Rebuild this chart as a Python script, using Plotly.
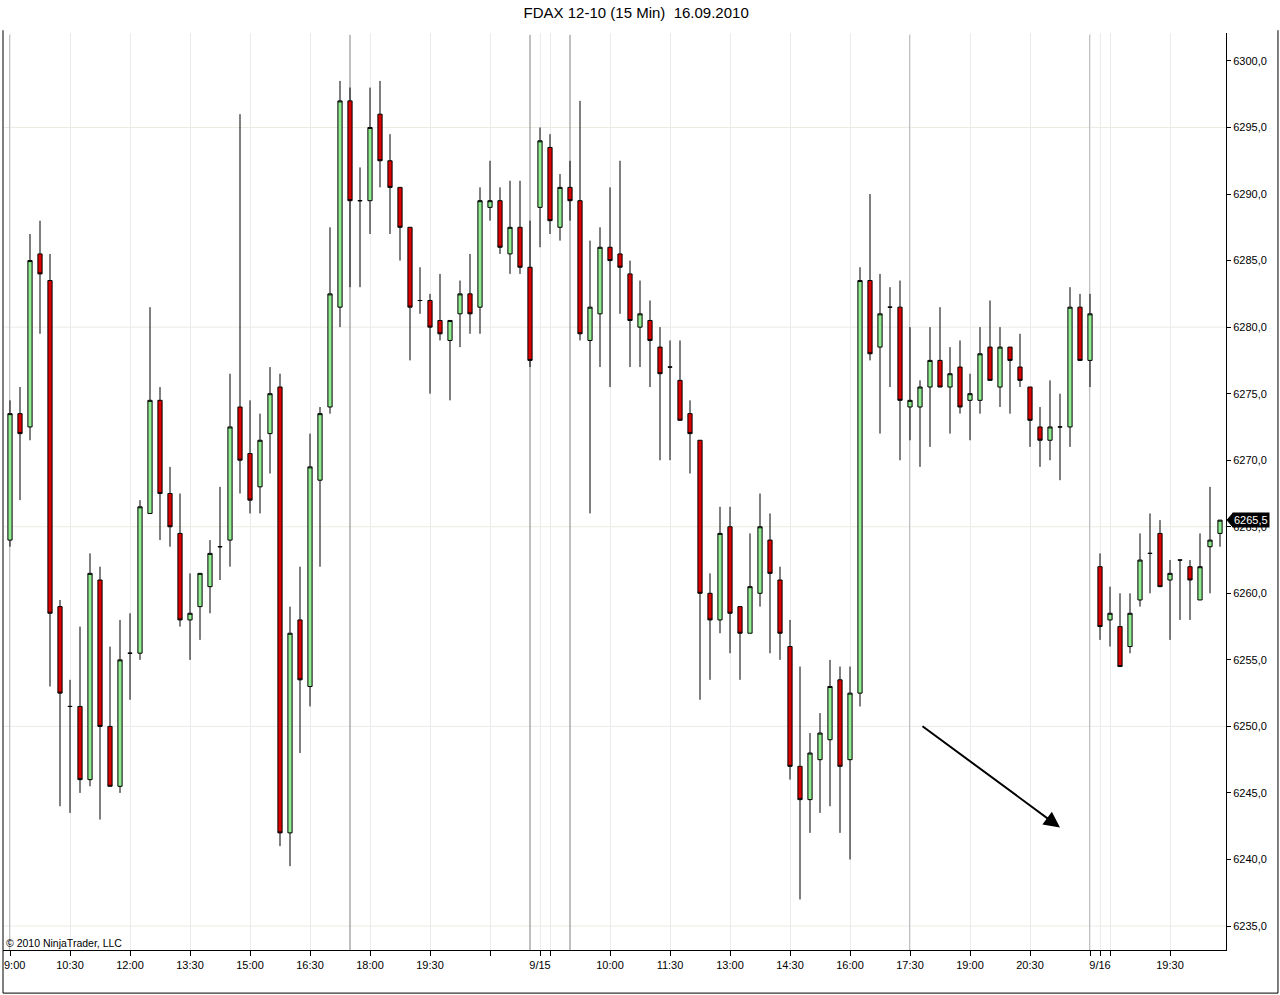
import plotly.graph_objects as go

# ---------------- data (FDAX 12-10, 15 min bars) ----------------
OPEN = [6264, 6273.5, 6272.5, 6285.5, 6283.5, 6259, 6251.5, 6251.5, 6246, 6261,
        6250, 6245.5, 6255.5, 6255.5, 6266, 6274.5, 6267.5, 6264.5, 6258, 6259,
        6260.5, 6263.5, 6264, 6274, 6270.5, 6268, 6272, 6275.5, 6242, 6258,
        6253, 6268.5, 6274, 6281.5, 6297, 6289.5, 6289.5, 6296, 6292.5, 6290.5,
        6287.5, 6282, 6282, 6280.5, 6279, 6281, 6282.5, 6281.5, 6289, 6289.5,
        6285.5, 6287.5, 6284.5, 6289, 6293.5, 6287.5, 6290.5, 6289.5, 6279, 6281,
        6286, 6285.5, 6284, 6280, 6280.5, 6278.5, 6277, 6276, 6273.5, 6271.5,
        6260, 6258, 6265, 6259, 6257, 6260, 6264, 6261, 6256, 6247,
        6244.5, 6247.5, 6249, 6253.5, 6247.5, 6252.5, 6283.5, 6278.5, 6281.5, 6281.5,
        6274, 6274, 6275.5, 6277.5, 6275.5, 6277, 6274.5, 6274.5, 6278.5, 6275.5,
        6278.5, 6277, 6275.5, 6272.5, 6271.5, 6272.5, 6272.5, 6281.5, 6277.5, 6262,
        6258, 6257.5, 6256, 6259.5, 6263, 6264.5, 6261, 6262.5, 6262, 6259.5,
        6263.5, 6264.5]
HIGH = [6274.5, 6275.5, 6287, 6288, 6285.5, 6259.5, 6253.5, 6257.5, 6263, 6262,
        6256, 6258, 6258.5, 6267, 6281.5, 6275.5, 6269.5, 6267.5, 6261.5, 6261.5,
        6264, 6268, 6276.5, 6296, 6274.5, 6273.5, 6277, 6276.5, 6259, 6262,
        6272, 6274, 6287.5, 6298.5, 6298, 6292, 6298, 6298.5, 6294.5, 6290.5,
        6287.5, 6284.5, 6282.5, 6284, 6280.5, 6283.5, 6285.5, 6290.5, 6292.5, 6290.5,
        6291, 6291, 6288, 6295, 6294.5, 6291.5, 6292.5, 6297, 6286.5, 6287.5,
        6290.5, 6292.5, 6285, 6283.5, 6282, 6280, 6279, 6279, 6274.5, 6271.5,
        6261.5, 6266.5, 6266.5, 6259, 6264.5, 6267.5, 6266, 6262, 6258, 6254.5,
        6249.5, 6251, 6255, 6254.5, 6254.5, 6284.5, 6290, 6284, 6283, 6283.5,
        6280, 6276, 6280, 6281.5, 6278.5, 6279, 6276.5, 6280, 6282, 6280,
        6278.5, 6279.5, 6275.5, 6274, 6276, 6275, 6283, 6282.5, 6282.5, 6263,
        6260.5, 6260, 6260, 6264.5, 6266, 6265.5, 6262.5, 6262.5, 6262.5, 6264.5,
        6268, 6265.5]
LOW = [6263.5, 6267, 6271.5, 6279.5, 6253, 6244, 6243.5, 6245, 6245.5, 6243,
       6245.5, 6245, 6252, 6255, 6266, 6264, 6263.5, 6257.5, 6255, 6256.5,
       6258.5, 6261, 6262, 6267.5, 6266, 6266, 6269, 6241, 6239.5, 6248,
       6251.5, 6262, 6273.5, 6280, 6283, 6283, 6287, 6290.5, 6287, 6285,
       6277.5, 6281, 6275, 6279, 6274.5, 6278.5, 6279.5, 6279.5, 6288, 6285.5,
       6284, 6284, 6277, 6286, 6287, 6286.5, 6288, 6279, 6266, 6277,
       6275.5, 6281, 6277, 6277, 6275.5, 6270, 6270, 6273, 6269, 6252,
       6253.5, 6257, 6255.5, 6253.5, 6257, 6259, 6255.5, 6255, 6246, 6237,
       6242, 6243.5, 6244, 6242, 6240, 6251.5, 6277.5, 6272, 6275.5, 6270,
       6271.5, 6269.5, 6271, 6275.5, 6272, 6273.5, 6271.5, 6273.5, 6276, 6274,
       6273.5, 6275.5, 6271, 6269.5, 6270, 6268.5, 6271, 6277.5, 6275.5, 6256.5,
       6256, 6254.5, 6255.5, 6259, 6260, 6260.5, 6256.5, 6258, 6258, 6259.5,
       6260, 6263.5]
CLOSE = [6273.5, 6272, 6285, 6284, 6258.5, 6252.5, 6251.5, 6246, 6261.5, 6250,
         6245.5, 6255, 6255.5, 6266.5, 6274.5, 6267.5, 6265, 6258, 6258.5, 6261.5,
         6263, 6263.5, 6272.5, 6270, 6267, 6271.5, 6275, 6242, 6257, 6253.5,
         6269.5, 6273.5, 6282.5, 6297, 6289.5, 6289.5, 6295, 6292.5, 6290.5, 6287.5,
         6281.5, 6282, 6280, 6279.5, 6280.5, 6282.5, 6281, 6289.5, 6289.5, 6286,
         6287.5, 6284.5, 6277.5, 6294, 6288, 6290.5, 6289.5, 6279.5, 6281.5, 6286,
         6285, 6284.5, 6280.5, 6281, 6279, 6276.5, 6277, 6273, 6272, 6260,
         6258, 6264.5, 6258.5, 6257, 6260.5, 6265, 6261.5, 6257, 6247, 6244.5,
         6248, 6249.5, 6253, 6247, 6252.5, 6283.5, 6278, 6281, 6281.5, 6274.5,
         6274.5, 6275.5, 6277.5, 6275.5, 6276.5, 6274, 6275, 6278, 6276, 6278.5,
         6277.5, 6276, 6273, 6271.5, 6272.5, 6272.5, 6281.5, 6277.5, 6281, 6257.5,
         6258.5, 6254.5, 6258.5, 6262.5, 6263, 6260.5, 6261.5, 6262.5, 6261, 6262,
         6264, 6265.5]
BAR_INDEX = list(range(len(CLOSE)))

TICK_POS = [0, 6, 12, 18, 24, 30, 36, 42, 48, 53, 54, 60, 66, 72, 78, 84, 90, 96,
            102, 108, 109, 110, 116]
TICK_TEXT = ["9:00", "10:30", "12:00", "13:30", "15:00", "16:30", "18:00", "19:30",
             "", "9/15", "", "10:00", "11:30", "13:00", "14:30", "16:00", "17:30",
             "19:00", "20:30", "", "9/16", "", "19:30"]
SESSION_BREAKS = [0, 34, 52, 56, 90, 108]
GRID_LEVELS = [6235, 6250, 6265, 6280, 6295]
LAST_PRICE = CLOSE[-1]
ARROW_FROM = (91.1, 6250.1)
ARROW_TO = (105.0, 6242.4)

FONT = "Liberation Sans, Arial, sans-serif"

fig = go.Figure()
fig.add_trace(go.Candlestick(
    x=BAR_INDEX, open=OPEN, high=HIGH, low=LOW, close=CLOSE,
    increasing=dict(fillcolor="#90EE90", line=dict(color="black", width=1)),
    decreasing=dict(fillcolor="#DD0000", line=dict(color="black", width=1)),
    whiskerwidth=0, showlegend=False, hoverinfo="skip"))

shapes = []
for g in GRID_LEVELS:
    shapes.append(dict(type="line", xref="paper", yref="y", x0=0, x1=1, y0=g, y1=g,
                       line=dict(color="#EDEAE4", width=1), layer="below"))
for s in SESSION_BREAKS:
    shapes.append(dict(type="line", xref="x", yref="paper", x0=s, x1=s, y0=0, y1=0.998,
                       line=dict(color="#808080", width=1), layer="below"))
# outer frame (left, bottom, right)
shapes.append(dict(type="line", xref="paper", yref="paper", x0=0, x1=0, y0=-0.047, y1=1.003,
                   line=dict(color="black", width=1)))
shapes.append(dict(type="line", xref="paper", yref="paper", x0=0, x1=1.0425, y0=-0.047, y1=-0.047,
                   line=dict(color="black", width=1)))
shapes.append(dict(type="line", xref="paper", yref="paper", x0=1.0425, x1=1.0425, y0=-0.047, y1=1.003,
                   line=dict(color="black", width=1)))
# last price marker triangle
shapes.append(dict(type="path", xref="paper", yref="y", xsizemode="pixel", ysizemode="pixel",
                   xanchor=1, yanchor=LAST_PRICE, path="M 1,0 L 7,7 L 7,-7 Z",
                   fillcolor="black", line=dict(color="black", width=1)))

# first tick label sits at the left edge: draw it left-aligned so it is not cut off
axis_text = [""] + TICK_TEXT[1:]

annotations = [
    dict(text=TICK_TEXT[0], xref="paper", yref="paper", x=0, y=0, xanchor="left", yanchor="top",
         yshift=-7, xshift=-1, showarrow=False, font=dict(family=FONT, size=11, color="black")),
    dict(text="\u00a9 2010 NinjaTrader, LLC", xref="paper", yref="paper", x=0, y=0.008,
         xanchor="left", yanchor="middle", showarrow=False, xshift=1,
         font=dict(family=FONT, size=10.5, color="black")),
    dict(text=f"{LAST_PRICE:.1f}".replace(".", ","), xref="paper", yref="y", x=1, y=LAST_PRICE,
         xanchor="left", yanchor="middle", xshift=6, showarrow=False, bgcolor="black",
         borderpad=1, font=dict(family=FONT, size=11, color="white")),
    dict(text="", x=ARROW_TO[0], y=ARROW_TO[1], ax=ARROW_FROM[0], ay=ARROW_FROM[1],
         xref="x", yref="y", axref="x", ayref="y", showarrow=True,
         arrowhead=2, arrowsize=1.6, arrowwidth=2, arrowcolor="black"),
]

fig.update_layout(
    width=1280, height=995,
    margin=dict(l=3, r=54, t=33, b=45),
    paper_bgcolor="white", plot_bgcolor="white",
    separators=",.",
    boxgap=0.4,
    title=dict(text="FDAX 12-10 (15 Min)\u00a0\u00a016.09.2010", x=0.497, xref="container",
               xanchor="center", y=0.987, yref="container", yanchor="middle",
               font=dict(family=FONT, size=15, color="black")),
    font=dict(family=FONT, size=11, color="black"),
    xaxis=dict(range=[-0.7, 121.6], tickmode="array", tickvals=TICK_POS, ticktext=axis_text,
               ticks="outside", ticklen=5, tickcolor="black", showline=True, linecolor="black",
               linewidth=1, showgrid=True, gridcolor="#EBEBEB", gridwidth=1, zeroline=False,
               rangeslider=dict(visible=False), tickfont=dict(size=11, family=FONT)),
    yaxis=dict(side="right", range=[6233.2, 6302.1], tick0=6235, dtick=5, tickformat=".1f",
               ticks="outside", ticklen=4, tickcolor="black", showline=True, linecolor="black",
               linewidth=1, showgrid=False, zeroline=False, tickfont=dict(size=11, family=FONT)),
    shapes=shapes, annotations=annotations,
)

fig.write_html("out.html", config={"displayModeBar": False},
               post_script="document.body.style.margin='0';document.body.style.overflow='hidden';")
